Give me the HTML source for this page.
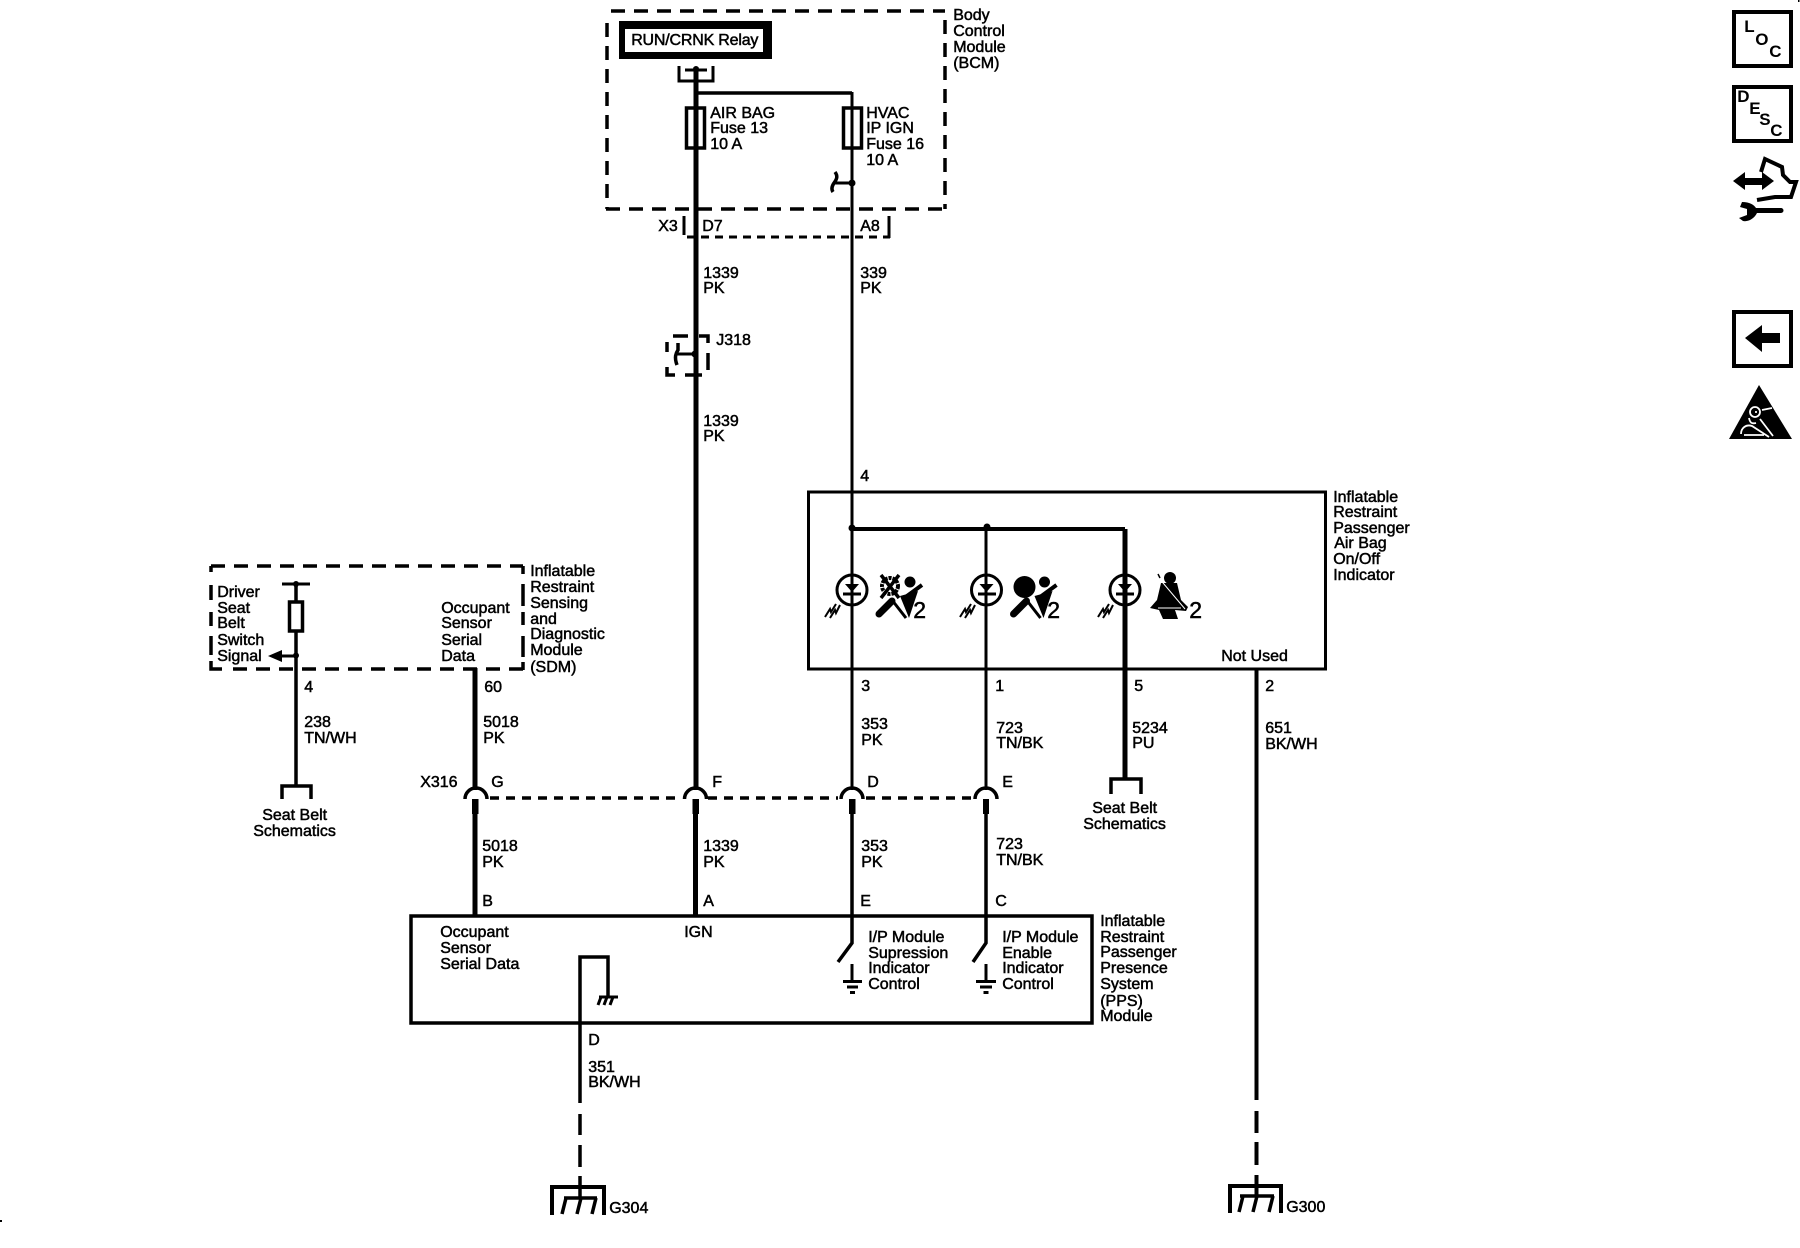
<!DOCTYPE html>
<html><head><meta charset="utf-8"><style>
html,body{margin:0;padding:0;background:#fff}
svg{display:block}
text{font-family:"Liberation Sans",sans-serif;font-size:16px;fill:#000;stroke:#000;stroke-width:.5px;transform:translateX(-.8px)}
.b{font-weight:bold;stroke-width:0}
.w{fill:none;stroke:#000}
</style></head><body>
<svg width="1800" height="1248" viewBox="0 0 1800 1248" xmlns="http://www.w3.org/2000/svg">
<rect width="1800" height="1248" fill="#fff"/>

<!-- BCM -->
<path class="w" stroke-width="3.5" stroke-dasharray="14 9" d="M611 11H945"/>
<path class="w" stroke-width="3.5" stroke-dasharray="14 9" d="M945 20V209"/>
<path class="w" stroke-width="3.5" stroke-dasharray="14 9" d="M607 23V209"/>
<path class="w" stroke-width="3.5" stroke-dasharray="14 9" d="M606 209H945"/>
<rect x="619" y="21" width="153" height="38" fill="#000"/>
<rect x="625" y="29" width="138" height="23" fill="#fff"/>
<text x="632" y="45" style="letter-spacing:-.2px">RUN/CRNK Relay</text>
<path class="w" stroke-width="3" d="M679 66V81H713V66M685 70H707"/>
<circle cx="696" cy="69" r="3"/>
<path class="w" stroke-width="5" d="M696 67V790"/>
<path class="w" stroke-width="3.5" d="M695 93H852"/>
<path class="w" stroke-width="3" d="M852 92V790"/>
<rect x="686.500" y="108" width="18" height="40" fill="none" stroke="#000" stroke-width="3.500"/>
<rect x="843.500" y="108" width="18" height="40" fill="none" stroke="#000" stroke-width="3.500"/>
<path class="w" stroke-width="3" d="M852 183H833"/>
<path class="w" stroke-width="3.500" d="M835 172C838 176 837 179 834 183C832 186 831 189 833 192"/>
<circle cx="852" cy="183" r="3.500"/>
<text x="711" y="118">AIR BAG</text><text x="711" y="133">Fuse 13</text><text x="711" y="149">10 A</text>
<text x="867" y="118">HVAC</text><text x="867" y="133">IP IGN</text><text x="867" y="149">Fuse 16</text><text x="867" y="165">10 A</text>
<text x="954" y="20">Body</text><text x="954" y="36">Control</text><text x="954" y="52">Module</text><text x="954" y="68">(BCM)</text>

<!-- X3 -->
<path class="w" stroke-width="3" d="M684 216V235"/>
<path class="w" stroke-width="3" stroke-dasharray="8 6" d="M687 237H890"/>
<path class="w" stroke-width="3" d="M889 216V238"/>
<text x="659" y="231">X3</text><text x="703" y="231">D7</text><text x="861" y="231">A8</text>
<text x="704" y="278">1339</text><text x="704" y="293">PK</text>
<text x="861" y="278">339</text><text x="861" y="293">PK</text>

<!-- J318 -->
<path class="w" stroke-width="3.500" d="M673 336H688M699 336H708V343M708 353V370M702 375H685M675 375H667V367M667 352V342"/>
<path class="w" stroke-width="3" d="M695 354H677"/>
<path class="w" stroke-width="3.500" d="M678 343V350C676 353 674 357 677 365"/>
<circle cx="695" cy="354" r="3.500"/>
<text x="717" y="345">J318</text>
<text x="704" y="426">1339</text><text x="704" y="441">PK</text>
<text x="861" y="481">4</text>

<!-- Indicator -->
<rect x="808.500" y="492" width="517" height="177" fill="none" stroke="#000" stroke-width="3"/>
<path class="w" stroke-width="4" d="M852 529H1125"/>
<path class="w" stroke-width="3" d="M986 528V790"/>
<path class="w" stroke-width="5" d="M1125 529V778"/>
<path class="w" stroke-width="4" d="M1256.500 670V1100"/>
<circle cx="852" cy="528" r="3.500"/><circle cx="987" cy="527" r="3.500"/>
<g>
<circle cx="852" cy="590" r="15" fill="none" stroke="#000" stroke-width="3"/>
<path d="M845 584H859L852 592Z"/><path class="w" stroke-width="3" d="M843 594H861"/>
<path class="w" stroke-width="2" d="M825 617L830 609L831 612L836 604M830 618L835 610L836 613L840 605"/>
</g>
<g>
<circle cx="986.500" cy="590" r="15" fill="none" stroke="#000" stroke-width="3"/>
<path d="M979.500 584H993.500L986.500 592Z"/><path class="w" stroke-width="3" d="M978 594H996"/>
<path class="w" stroke-width="2" d="M960 617L965 609L966 612L971 604M965 618L970 610L971 613L975 605"/>
</g>
<g>
<circle cx="1125" cy="590" r="15" fill="none" stroke="#000" stroke-width="3"/>
<path d="M1118 584H1132L1125 592Z"/><path class="w" stroke-width="3" d="M1116 594H1134"/>
<path class="w" stroke-width="2" d="M1098 617L1103 609L1104 612L1109 604M1103 618L1108 610L1109 613L1113 605"/>
</g>
<!-- airbag icons -->
<g>
<circle cx="890" cy="586" r="8" fill="none" stroke="#000" stroke-width="4" stroke-dasharray="3 1"/>
<path class="w" stroke-width="3.500" d="M881 575L899 598M899 575L881 598"/>
<circle cx="910" cy="582" r="5.500"/>
<path class="w" stroke-width="4" d="M922 585L907 596"/>
<path d="M900 596L918 591L909 618Z"/>
<path class="w" stroke-width="7" stroke-linecap="round" d="M879 614L892 601"/>
<path class="w" stroke-width="3" d="M892 600L906 618"/>
</g>
<g transform="translate(134.500 0)">
<circle cx="890" cy="587" r="11"/>
<circle cx="910" cy="582" r="5.500"/>
<path class="w" stroke-width="4" d="M922 585L907 596"/>
<path d="M900 596L918 591L909 618Z"/>
<path class="w" stroke-width="7" stroke-linecap="round" d="M879 614L892 601"/>
<path class="w" stroke-width="3" d="M892 600L906 618"/>
</g>
<g>
<circle cx="1170" cy="578" r="6"/>
<path d="M1161 583H1177L1181 600L1188 607L1186 611L1175 610L1178 619H1163L1159 610L1150 608L1157 600Z"/>
<path class="w" style="stroke:#fff" stroke-width="1" d="M1158 577L1185 609M1158 608H1181"/>
<path class="w" stroke-width="1.500" d="M1158 574L1160 578"/>
</g>
<text x="914" y="618" style="font-size:23px">2</text>
<text x="1048" y="618" style="font-size:23px">2</text>
<text x="1190" y="618" style="font-size:23px">2</text>
<text x="1222" y="661">Not Used</text>
<text x="1334" y="502">Inflatable</text><text x="1334" y="517">Restraint</text><text x="1334" y="533">Passenger</text><text x="1335" y="548">Air Bag</text><text x="1334" y="564">On/Off</text><text x="1334" y="580">Indicator</text>
<text x="862" y="691">3</text><text x="996" y="691">1</text><text x="1135" y="691">5</text><text x="1266" y="691">2</text>
<text x="862" y="729">353</text><text x="862" y="745">PK</text>
<text x="997" y="733">723</text><text x="997" y="748">TN/BK</text>
<text x="1133" y="733">5234</text><text x="1133" y="748">PU</text>
<text x="1266" y="733">651</text><text x="1266" y="749">BK/WH</text>
<path class="w" stroke-width="3.500" d="M1111 794V779H1141V794"/>
<text x="1093" y="813">Seat Belt</text><text x="1084" y="829">Schematics</text>

<!-- SDM -->
<path class="w" stroke-width="3.500" stroke-dasharray="14 9" d="M211 566H523"/>
<path class="w" stroke-width="3.500" d="M211 566V572M211 585V600M211 612V626M211 636V655M211 661V669H222"/>
<path class="w" stroke-width="3.500" stroke-dasharray="14 9" d="M233 669H523"/>
<path class="w" stroke-width="3.500" d="M523 566V574M523 584V606M523 612V625M523 636V657M523 662V670"/>
<path class="w" stroke-width="3" d="M282 584H310"/>
<path class="w" stroke-width="3.500" d="M296 584V785"/>
<circle cx="296" cy="584" r="3"/>
<rect x="289.500" y="602" width="13" height="29" fill="#fff" stroke="#000" stroke-width="3.500"/>
<circle cx="296" cy="655.500" r="3"/>
<path d="M268 656L282 650V662Z"/><path class="w" stroke-width="3" d="M281 656H296"/>
<path class="w" stroke-width="3.500" d="M282 799V786H311V799"/>
<text x="218" y="597">Driver</text><text x="218" y="613">Seat</text><text x="218" y="628">Belt</text><text x="218" y="645">Switch</text><text x="218" y="661">Signal</text>
<text x="442" y="613">Occupant</text><text x="442" y="628">Sensor</text><text x="442" y="645">Serial</text><text x="442" y="661">Data</text>
<text x="531" y="576">Inflatable</text><text x="531" y="592">Restraint</text><text x="531" y="608">Sensing</text><text x="531" y="624">and</text><text x="531" y="639">Diagnostic</text><text x="531" y="655">Module</text><text x="531" y="672">(SDM)</text>
<path class="w" stroke-width="5" d="M475 668V790"/>
<text x="305" y="692">4</text><text x="485" y="692">60</text>
<text x="305" y="727">238</text><text x="305" y="743">TN/WH</text>
<text x="484" y="727">5018</text><text x="484" y="743">PK</text>
<text x="263" y="820">Seat Belt</text><text x="254" y="836">Schematics</text>

<!-- X316 -->
<text x="421" y="787">X316</text><text x="492" y="787">G</text><text x="713" y="787">F</text><text x="868" y="787">D</text><text x="1003" y="787">E</text>
<path class="w" stroke-width="3.500" stroke-dasharray="9 7" d="M490 798H681"/>
<path class="w" stroke-width="3.500" stroke-dasharray="9 7" d="M708 798H838"/>
<path class="w" stroke-width="3.500" stroke-dasharray="9 7" d="M866 798H975"/>
<g class="w" fill="none" stroke="#000" stroke-width="3.500">
<path d="M465 799A11 11 0 0 1 487 799"/>
<path d="M684.500 799A11 11 0 0 1 706.500 799"/>
<path d="M841 799A11 11 0 0 1 863 799"/>
<path d="M975 799A11 11 0 0 1 997 799"/>
</g>
<rect x="472" y="799" width="6.500" height="15"/><rect x="692.500" y="799" width="6.500" height="15"/><rect x="849" y="799" width="6.500" height="15"/><rect x="983" y="799" width="6" height="15"/>
<path class="w" stroke-width="5" d="M475 814V916M695.500 814V916"/>
<path class="w" stroke-width="3.500" d="M852 814V943L838 962M986 814V943L973 962"/>
<text x="483" y="851">5018</text><text x="483" y="867">PK</text>
<text x="704" y="851">1339</text><text x="704" y="867">PK</text>
<text x="862" y="851">353</text><text x="862" y="867">PK</text>
<text x="997" y="849">723</text><text x="997" y="865">TN/BK</text>
<text x="483" y="906">B</text><text x="704" y="906">A</text><text x="861" y="906">E</text><text x="996" y="906">C</text>

<!-- PPS -->
<rect x="411" y="916" width="681" height="107" fill="none" stroke="#000" stroke-width="3.500"/>
<text x="441" y="937">Occupant</text><text x="441" y="953">Sensor</text><text x="441" y="969">Serial Data</text>
<text x="685" y="937">IGN</text>
<path class="w" stroke-width="3.500" d="M580 1103V957H608V997"/>
<path class="w" stroke-width="3" d="M599 997H618M601 997L598 1005M607 997L604 1005M613 997L610 1005"/>
<path class="w" stroke-width="3" d="M852 964V980M986 964V980"/>
<path class="w" stroke-width="3" d="M843 981.500H862M847 987H858M850 992.500H855M976 981.500H996M980 987H992M983.500 992.500H988.500"/>
<text x="869" y="942">I/P Module</text><text x="869" y="958">Supression</text><text x="869" y="973">Indicator</text><text x="869" y="989">Control</text>
<text x="1003" y="942">I/P Module</text><text x="1003" y="958">Enable</text><text x="1003" y="973">Indicator</text><text x="1003" y="989">Control</text>
<text x="1101" y="926">Inflatable</text><text x="1101" y="942">Restraint</text><text x="1101" y="957">Passenger</text><text x="1101" y="973">Presence</text><text x="1101" y="989">System</text><text x="1101" y="1006">(PPS)</text><text x="1101" y="1021">Module</text>
<text x="589" y="1045">D</text><text x="589" y="1072">351</text><text x="589" y="1087">BK/WH</text>

<!-- Grounds -->
<path class="w" stroke-width="3.500" d="M580 1114V1135M580 1145V1167M580 1176V1198"/>
<path class="w" stroke-width="4" d="M552 1215V1187H604V1215"/>
<path class="w" stroke-width="3.500" d="M564 1198H597M566 1198L562 1214M581 1198L577 1214M596 1198L592 1214"/>
<text x="610" y="1213" style="font-size:16px">G304</text>
<path class="w" stroke-width="4" d="M1256.500 1111V1133M1256.500 1142V1165M1256.500 1175V1196"/>
<path class="w" stroke-width="4" d="M1230 1213V1186H1281V1213"/>
<path class="w" stroke-width="3.500" d="M1240 1196H1274M1243 1196L1239 1212M1257 1196L1253 1212M1273 1196L1269 1212"/>
<text x="1287" y="1212" style="font-size:16px">G300</text>

<!-- Right icons -->
<rect x="1734" y="12" width="57" height="54" fill="none" stroke="#000" stroke-width="4"/>
<text class="b" x="1745" y="32" style="font-size:17px">L</text><text class="b" x="1756" y="45" style="font-size:17px">O</text><text class="b" x="1770" y="57" style="font-size:17px">C</text>
<rect x="1734" y="87" width="57" height="54" fill="none" stroke="#000" stroke-width="4"/>
<text class="b" x="1738" y="102" style="font-size:17px">D</text><text class="b" x="1750" y="114" style="font-size:17px">E</text><text class="b" x="1760" y="125" style="font-size:17px">S</text><text class="b" x="1771" y="136" style="font-size:17px">C</text>
<path d="M1733 181L1745 172V178H1762V172L1774 181L1762 190V185H1745V190Z"/>
<path class="w" stroke-width="4" d="M1761 172L1765 159L1782 167L1783 175L1790 182L1796 182L1791 197L1775 197L1757 200"/>
<path d="M1742 202C1750 202 1754 205 1756 208H1781A2.500 2.500 0 0 1 1781 213H1757C1754 219 1748 222 1743 221L1739 218L1747 215V209L1740 207Z"/>
<rect x="1734" y="312" width="57" height="54" fill="none" stroke="#000" stroke-width="4"/>
<path d="M1745 338L1762 325V333H1780V343H1762V352Z"/>
<path d="M1759 385L1792 439H1729Z"/>
<g class="w" style="stroke:#fff" stroke-width="1.800">
<circle cx="1755" cy="412" r="5"/>
<path d="M1755 412h2M1749 418C1750 423 1752 424 1756 423"/>
<path d="M1741 434C1741 428 1746 424 1752 426L1769 437M1762 410L1772 408M1760 419L1773 436M1744 435H1764"/>
</g>
<rect x="1798" y="0" width="1.500" height="2"/>
<rect x="0" y="1220" width="2" height="2"/>
</svg>
</body></html>
